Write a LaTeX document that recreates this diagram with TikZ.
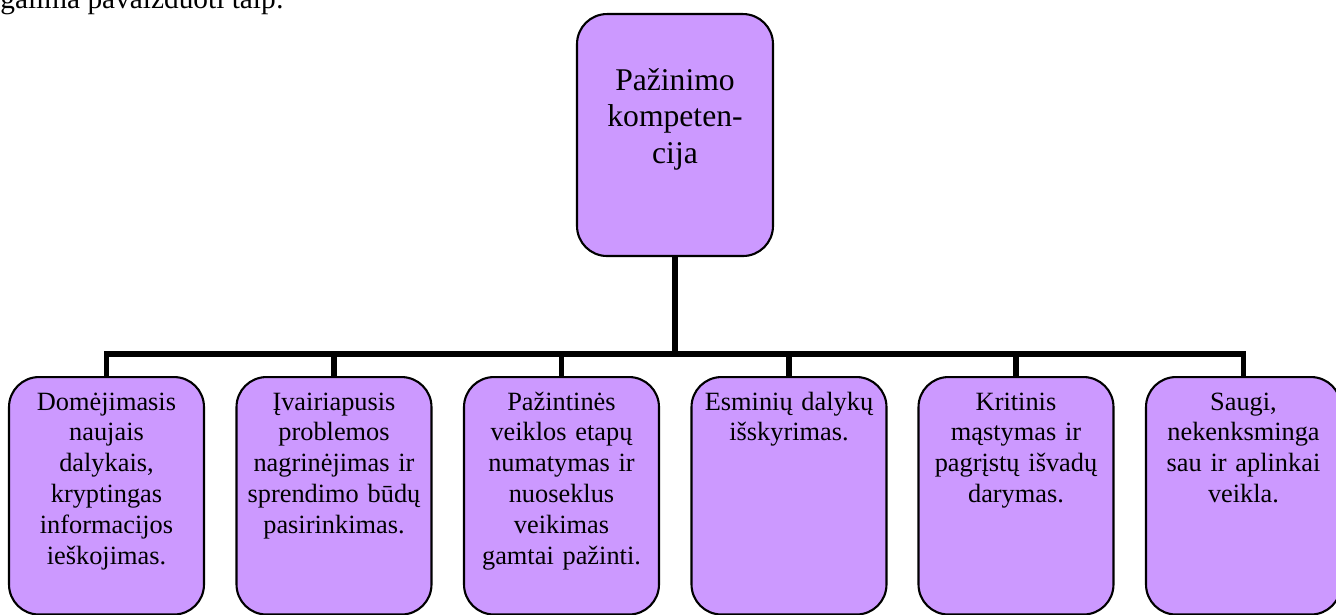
\documentclass[tikz,border=0pt]{standalone}
\usepackage{fontspec}
\setmainfont{Liberation Serif}
\usepackage{tikz}
\usepackage{xcolor}
\definecolor{alyvine}{RGB}{204,153,255}
\tikzset{
Tevas/.style={
 draw=black,
 fill=alyvine,
 line width=1.2pt,
 rounded corners=0.6cm,
 inner sep=0pt,
 text width=3.92cm,
 align=center,
 text height=1.52cm,
 text depth=3.32cm,
 font=\fontsize{18}{21}\selectfont,
 anchor=north
 },
Vaikas/.style={
 draw=black,
 fill=alyvine,
 line width=1.2pt,
 rounded corners=0.6cm,
 inner sep=0pt,
 text width=3.9cm,
 align=center,
 text height=0.66cm,
 text depth=4.09cm,
 font=\fontsize{15}{17.6}\selectfont,
 anchor=north
 },
Jungtis/.style={
 draw=black,
 line width=3pt
 }
}

\begin{document}
\begin{tikzpicture}[x=0.02cm,y=-0.02cm]
\useasboundingbox (0,0) rectangle (1336,615);
\clip (0,0) rectangle (1336,615);
\node[anchor=base west,inner sep=0pt,font=\fontsize{16.7}{20}\selectfont] (ivadas) at (0,9) {galima pavaizduoti taip:};
\node[Tevas] (tevas) at (675,13) {Pažinimo\\kompeten-\\cija};
\node[Vaikas] (v1) at (106.5,376) {Domėjimasis\\naujais\\dalykais,\\kryptingas\\informacijos\\ieškojimas.};
\node[Vaikas] (v2) at (334,376) {Įvairiapusis\\problemos\\nagrinėjimas ir\\sprendimo būdų\\pasirinkimas.};
\node[Vaikas] (v3) at (561.5,376) {Pažintinės\\veiklos etapų\\numatymas ir\\nuoseklus\\veikimas\\gamtai pažinti.};
\node[Vaikas] (v4) at (789,376) {Esminių dalykų\\išskyrimas.};
\node[Vaikas] (v5) at (1016,376) {Kritinis\\mąstymas ir\\pagrįstų išvadų\\darymas.};
\node[Vaikas] (v6) at (1243.5,376) {Saugi,\\nekenksminga\\sau ir aplinkai\\veikla.};
\draw[Jungtis] (tevas.south) -- ++(0,97) coordinate (sakos);
\draw[Jungtis] (sakos) -| (v1.north);
\draw[Jungtis] (sakos) -| (v2.north);
\draw[Jungtis] (sakos) -| (v3.north);
\draw[Jungtis] (sakos) -| (v4.north);
\draw[Jungtis] (sakos) -| (v5.north);
\draw[Jungtis] (sakos) -| (v6.north);
\end{tikzpicture}
\end{document}
